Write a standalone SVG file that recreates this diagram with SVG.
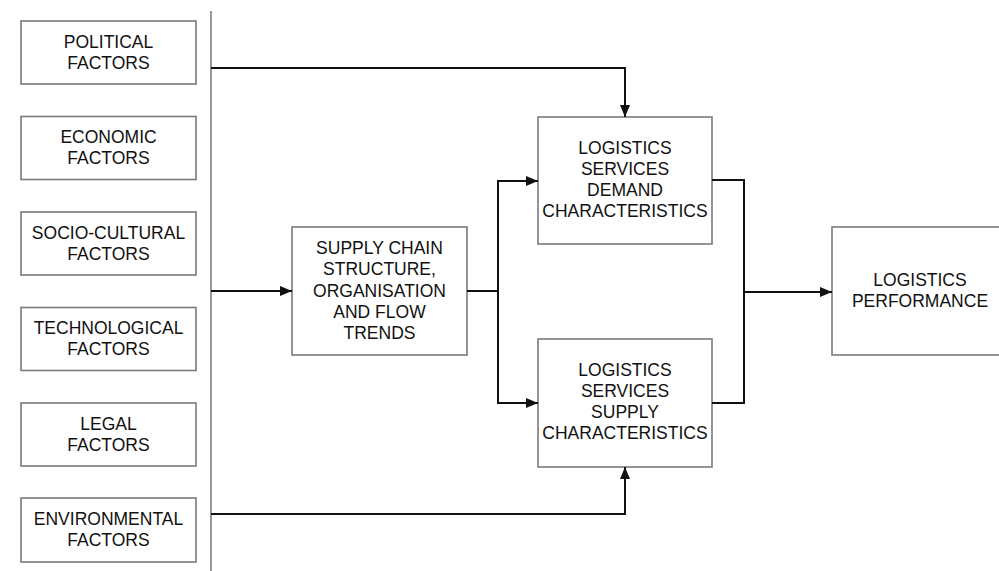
<svg xmlns="http://www.w3.org/2000/svg" width="999" height="571" viewBox="0 0 999 571">
<style>
.box{fill:#fff;stroke:#7a7a7a;stroke-width:1.6}
.t{font-family:"Liberation Sans",Arial,sans-serif;font-size:17.5px;fill:#111;text-anchor:middle}
.c{fill:none;stroke:#111;stroke-width:2}
</style>
<defs>
<marker id="ah" viewBox="0 0 12 10" refX="12" refY="5" markerWidth="12" markerHeight="10" markerUnits="userSpaceOnUse" orient="auto">
<path d="M0,0 L12,5 L0,10 Z" fill="#111"/>
</marker>
</defs>
<rect width="999" height="571" fill="#fff"/>
<line x1="211" y1="11" x2="211" y2="571" stroke="#999" stroke-width="2"/>
<g id="political"><rect class="box" x="21" y="21" width="175" height="63"/><text class="t" x="108.5" y="47.5">POLITICAL</text><text class="t" x="108.5" y="68.5">FACTORS</text></g>
<g id="economic"><rect class="box" x="21" y="116.5" width="175" height="63"/><text class="t" x="108.5" y="143">ECONOMIC</text><text class="t" x="108.5" y="164">FACTORS</text></g>
<g id="sociocultural"><rect class="box" x="21" y="212" width="175" height="63"/><text class="t" x="108.5" y="238.5">SOCIO-CULTURAL</text><text class="t" x="108.5" y="259.5">FACTORS</text></g>
<g id="technological"><rect class="box" x="21" y="307.5" width="175" height="63"/><text class="t" x="108.5" y="334">TECHNOLOGICAL</text><text class="t" x="108.5" y="355">FACTORS</text></g>
<g id="legal"><rect class="box" x="21" y="403" width="175" height="63"/><text class="t" x="108.5" y="429.5">LEGAL</text><text class="t" x="108.5" y="450.5">FACTORS</text></g>
<g id="environmental"><rect class="box" x="21" y="498" width="175" height="64"/><text class="t" x="108.5" y="525">ENVIRONMENTAL</text><text class="t" x="108.5" y="546">FACTORS</text></g>
<g id="supplychain"><rect class="box" x="292" y="227" width="175" height="128"/>
<text class="t" x="379.5" y="254">SUPPLY CHAIN</text><text class="t" x="379.5" y="275">STRUCTURE,</text><text class="t" x="379.5" y="296.5">ORGANISATION</text><text class="t" x="379.5" y="317.5">AND FLOW</text><text class="t" x="379.5" y="338.5">TRENDS</text></g>
<g id="demand"><rect class="box" x="538" y="117" width="174" height="127"/>
<text class="t" x="625" y="154">LOGISTICS</text><text class="t" x="625" y="175">SERVICES</text><text class="t" x="625" y="196">DEMAND</text><text class="t" x="625" y="217">CHARACTERISTICS</text></g>
<g id="supply"><rect class="box" x="538" y="339" width="174" height="128"/>
<text class="t" x="625" y="376">LOGISTICS</text><text class="t" x="625" y="397">SERVICES</text><text class="t" x="625" y="418">SUPPLY</text><text class="t" x="625" y="439">CHARACTERISTICS</text></g>
<g id="performance"><rect class="box" x="832" y="227" width="176" height="128"/>
<text class="t" x="920" y="286">LOGISTICS</text><text class="t" x="920" y="307">PERFORMANCE</text></g>
<g id="connectors">
<path class="c" d="M211,68 H625 V117" marker-end="url(#ah)"/>
<path class="c" d="M211,291 H292" marker-end="url(#ah)"/>
<path class="c" d="M467,291 H498"/>
<path class="c" d="M498,291 V181 H538" marker-end="url(#ah)"/>
<path class="c" d="M498,291 V403 H538" marker-end="url(#ah)"/>
<path class="c" d="M712,180 H744 V403 H712"/>
<path class="c" d="M744,292 H832" marker-end="url(#ah)"/>
<path class="c" d="M211,514 H625 V467" marker-end="url(#ah)"/>
</g>
</svg>
